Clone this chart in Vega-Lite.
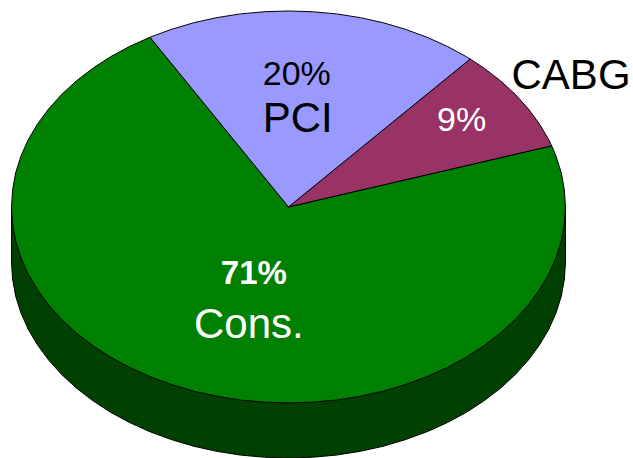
{"$schema":"https://vega.github.io/schema/vega-lite/v6.json","width":633,"height":458,"autosize":"none","padding":0,"background":"white","config":{"view":{"stroke":null}},
"layer":[
{"data":{"values":[
{"part":"Side","i":0,"x":-1,"y":-0.281},{"part":"Side","i":1,"x":-0.996,"y":-0.368},{"part":"Side","i":2,"x":-0.985,"y":-0.455},{"part":"Side","i":3,"x":-0.966,"y":-0.54},{"part":"Side","i":4,"x":-0.94,"y":-0.623},{"part":"Side","i":5,"x":-0.906,"y":-0.704},{"part":"Side","i":6,"x":-0.866,"y":-0.781},{"part":"Side","i":7,"x":-0.819,"y":-0.855},{"part":"Side","i":8,"x":-0.766,"y":-0.924},{"part":"Side","i":9,"x":-0.707,"y":-0.988},{"part":"Side","i":10,"x":-0.643,"y":-1.047},{"part":"Side","i":11,"x":-0.574,"y":-1.1},{"part":"Side","i":12,"x":-0.5,"y":-1.147},{"part":"Side","i":13,"x":-0.423,"y":-1.187},{"part":"Side","i":14,"x":-0.342,"y":-1.221},{"part":"Side","i":15,"x":-0.259,"y":-1.247},{"part":"Side","i":16,"x":-0.174,"y":-1.266},{"part":"Side","i":17,"x":-0.087,"y":-1.277},{"part":"Side","i":18,"x":0,"y":-1.281},{"part":"Side","i":19,"x":0.087,"y":-1.277},{"part":"Side","i":20,"x":0.174,"y":-1.266},{"part":"Side","i":21,"x":0.259,"y":-1.247},{"part":"Side","i":22,"x":0.342,"y":-1.221},{"part":"Side","i":23,"x":0.423,"y":-1.187},{"part":"Side","i":24,"x":0.5,"y":-1.147},{"part":"Side","i":25,"x":0.574,"y":-1.1},{"part":"Side","i":26,"x":0.643,"y":-1.047},{"part":"Side","i":27,"x":0.707,"y":-0.988},{"part":"Side","i":28,"x":0.766,"y":-0.924},{"part":"Side","i":29,"x":0.819,"y":-0.855},{"part":"Side","i":30,"x":0.866,"y":-0.781},{"part":"Side","i":31,"x":0.906,"y":-0.704},{"part":"Side","i":32,"x":0.94,"y":-0.623},{"part":"Side","i":33,"x":0.966,"y":-0.54},{"part":"Side","i":34,"x":0.985,"y":-0.455},{"part":"Side","i":35,"x":0.996,"y":-0.368},{"part":"Side","i":36,"x":1,"y":-0.281},{"part":"Side","i":37,"x":1,"y":0},{"part":"Side","i":38,"x":-1,"y":0},{"part":"Side","i":39,"x":-1,"y":-0.281},
{"part":"Cons.","i":0,"x":0,"y":0},{"part":"Cons.","i":1,"x":-0.5,"y":0.866},{"part":"Cons.","i":2,"x":-0.574,"y":0.819},{"part":"Cons.","i":3,"x":-0.643,"y":0.766},{"part":"Cons.","i":4,"x":-0.707,"y":0.707},{"part":"Cons.","i":5,"x":-0.766,"y":0.643},{"part":"Cons.","i":6,"x":-0.819,"y":0.574},{"part":"Cons.","i":7,"x":-0.866,"y":0.5},{"part":"Cons.","i":8,"x":-0.906,"y":0.423},{"part":"Cons.","i":9,"x":-0.94,"y":0.342},{"part":"Cons.","i":10,"x":-0.966,"y":0.259},{"part":"Cons.","i":11,"x":-0.985,"y":0.174},{"part":"Cons.","i":12,"x":-0.996,"y":0.087},{"part":"Cons.","i":13,"x":-1,"y":0},{"part":"Cons.","i":14,"x":-0.996,"y":-0.087},{"part":"Cons.","i":15,"x":-0.985,"y":-0.174},{"part":"Cons.","i":16,"x":-0.966,"y":-0.259},{"part":"Cons.","i":17,"x":-0.94,"y":-0.342},{"part":"Cons.","i":18,"x":-0.906,"y":-0.423},{"part":"Cons.","i":19,"x":-0.866,"y":-0.5},{"part":"Cons.","i":20,"x":-0.819,"y":-0.574},{"part":"Cons.","i":21,"x":-0.766,"y":-0.643},{"part":"Cons.","i":22,"x":-0.707,"y":-0.707},{"part":"Cons.","i":23,"x":-0.643,"y":-0.766},{"part":"Cons.","i":24,"x":-0.574,"y":-0.819},{"part":"Cons.","i":25,"x":-0.5,"y":-0.866},{"part":"Cons.","i":26,"x":-0.423,"y":-0.906},{"part":"Cons.","i":27,"x":-0.342,"y":-0.94},{"part":"Cons.","i":28,"x":-0.259,"y":-0.966},{"part":"Cons.","i":29,"x":-0.174,"y":-0.985},{"part":"Cons.","i":30,"x":-0.087,"y":-0.996},{"part":"Cons.","i":31,"x":0,"y":-1},{"part":"Cons.","i":32,"x":0.087,"y":-0.996},{"part":"Cons.","i":33,"x":0.174,"y":-0.985},{"part":"Cons.","i":34,"x":0.259,"y":-0.966},{"part":"Cons.","i":35,"x":0.342,"y":-0.94},{"part":"Cons.","i":36,"x":0.423,"y":-0.906},{"part":"Cons.","i":37,"x":0.5,"y":-0.866},{"part":"Cons.","i":38,"x":0.574,"y":-0.819},{"part":"Cons.","i":39,"x":0.643,"y":-0.766},{"part":"Cons.","i":40,"x":0.707,"y":-0.707},{"part":"Cons.","i":41,"x":0.766,"y":-0.643},{"part":"Cons.","i":42,"x":0.819,"y":-0.574},{"part":"Cons.","i":43,"x":0.866,"y":-0.5},{"part":"Cons.","i":44,"x":0.906,"y":-0.423},{"part":"Cons.","i":45,"x":0.94,"y":-0.342},{"part":"Cons.","i":46,"x":0.966,"y":-0.259},{"part":"Cons.","i":47,"x":0.985,"y":-0.174},{"part":"Cons.","i":48,"x":0.996,"y":-0.087},{"part":"Cons.","i":49,"x":1,"y":0},{"part":"Cons.","i":50,"x":0.996,"y":0.087},{"part":"Cons.","i":51,"x":0.985,"y":0.174},{"part":"Cons.","i":52,"x":0.966,"y":0.259},{"part":"Cons.","i":53,"x":0.95,"y":0.312},{"part":"Cons.","i":54,"x":0,"y":0},
{"part":"CABG","i":0,"x":0,"y":0},{"part":"CABG","i":1,"x":0.95,"y":0.312},{"part":"CABG","i":2,"x":0.94,"y":0.342},{"part":"CABG","i":3,"x":0.906,"y":0.423},{"part":"CABG","i":4,"x":0.866,"y":0.5},{"part":"CABG","i":5,"x":0.819,"y":0.574},{"part":"CABG","i":6,"x":0.766,"y":0.643},{"part":"CABG","i":7,"x":0.707,"y":0.707},{"part":"CABG","i":8,"x":0.656,"y":0.755},{"part":"CABG","i":9,"x":0,"y":0},
{"part":"PCI","i":0,"x":0,"y":0},{"part":"PCI","i":1,"x":0.656,"y":0.755},{"part":"PCI","i":2,"x":0.643,"y":0.766},{"part":"PCI","i":3,"x":0.574,"y":0.819},{"part":"PCI","i":4,"x":0.5,"y":0.866},{"part":"PCI","i":5,"x":0.423,"y":0.906},{"part":"PCI","i":6,"x":0.342,"y":0.94},{"part":"PCI","i":7,"x":0.259,"y":0.966},{"part":"PCI","i":8,"x":0.174,"y":0.985},{"part":"PCI","i":9,"x":0.087,"y":0.996},{"part":"PCI","i":10,"x":0,"y":1},{"part":"PCI","i":11,"x":-0.087,"y":0.996},{"part":"PCI","i":12,"x":-0.174,"y":0.985},{"part":"PCI","i":13,"x":-0.259,"y":0.966},{"part":"PCI","i":14,"x":-0.342,"y":0.94},{"part":"PCI","i":15,"x":-0.423,"y":0.906},{"part":"PCI","i":16,"x":-0.5,"y":0.866},{"part":"PCI","i":17,"x":0,"y":0}
]},
"mark":{"type":"line","stroke":"#000000","strokeWidth":1,"strokeJoin":"round","clip":false},
"encoding":{
"x":{"field":"x","type":"quantitative","scale":{"domain":[-1.0415,1.2437]},"axis":null},
"y":{"field":"y","type":"quantitative","scale":{"domain":[-1.281,1.056]},"axis":null},
"order":{"field":"i","type":"quantitative"},
"detail":{"field":"part"},
"fill":{"field":"part","type":"nominal","legend":null,"scale":{"domain":["Side","Cons.","CABG","PCI"],"range":["#004000","#008000","#993366","#9999FF"]}}
}},
{"data":{"values":[
{"label":"20%","x":0.03,"y":0.672,"tone":"dark","kind":"share"},
{"label":"PCI","x":0.033,"y":0.45,"tone":"dark","kind":"name"},
{"label":"CABG","x":1.02,"y":0.668,"tone":"dark","kind":"name"},
{"label":"9%","x":0.625,"y":0.44,"tone":"light","kind":"share"},
{"label":"Cons.","x":-0.143,"y":-0.6,"tone":"light","kind":"name"}
]},
"mark":{"type":"text","font":"Liberation Sans","align":"center","baseline":"middle"},
"encoding":{
"x":{"field":"x","type":"quantitative","scale":{"domain":[-1.0415,1.2437]},"axis":null},
"y":{"field":"y","type":"quantitative","scale":{"domain":[-1.281,1.056]},"axis":null},
"text":{"field":"label"},
"color":{"field":"tone","type":"nominal","legend":null,"scale":{"domain":["dark","light"],"range":["#000000","#ffffff"]}},
"size":{"field":"kind","type":"nominal","legend":null,"scale":{"domain":["share","name"],"range":[34,42]}}
}},
{"data":{"values":[{"label":"71%","x":-0.125,"y":-0.343}]},
"mark":{"type":"text","font":"Liberation Sans","fontWeight":"bold","fontSize":33,"color":"#ffffff","align":"center","baseline":"middle"},
"encoding":{
"x":{"field":"x","type":"quantitative","scale":{"domain":[-1.0415,1.2437]},"axis":null},
"y":{"field":"y","type":"quantitative","scale":{"domain":[-1.281,1.056]},"axis":null},
"text":{"field":"label"}
}}
]}
